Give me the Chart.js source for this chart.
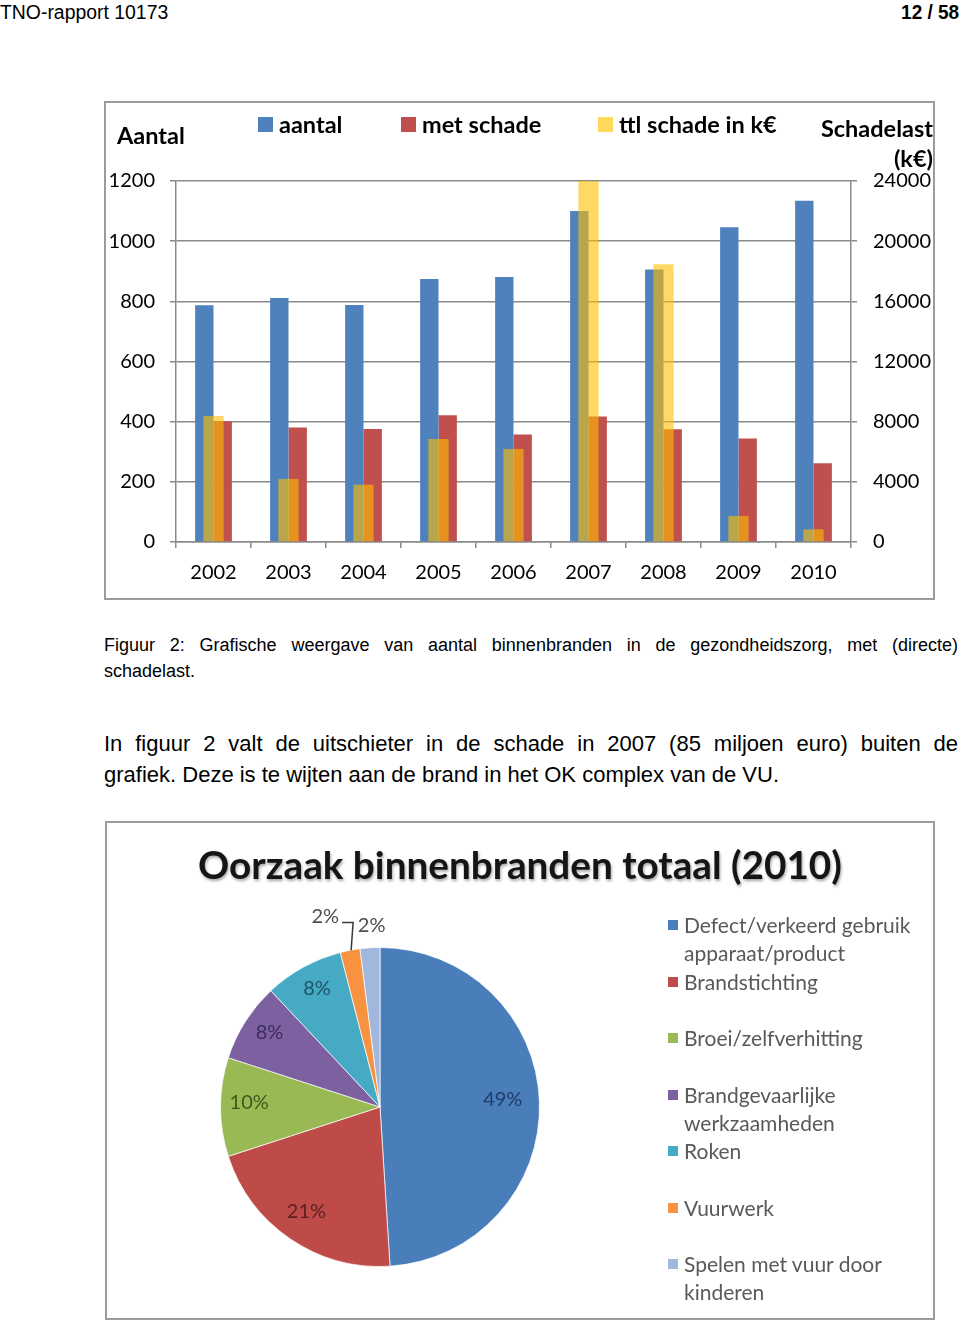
<!DOCTYPE html>
<html lang="nl">
<head>
<meta charset="utf-8">
<title>Binnenbranden gezondheidszorg</title>
<script src="https://cdn.jsdelivr.net/npm/chart.js@4.4.1/dist/chart.umd.min.js"></script>
<style>
    html, body { margin: 0; padding: 0; background: #fff; }
    body { width: 960px; height: 1323px; position: relative; overflow: hidden; font-family: "Liberation Sans", Arial, sans-serif; color: #000; }
    .abs { position: absolute; white-space: nowrap; }
    .kop { font-size: 20px; top: 1px; transform-origin: left top; transform: scaleX(0.97); }
    .kop.rechts { transform-origin: right top; right: 1px; font-weight: bold; transform: scaleX(0.95); }
    .kader { position: absolute; box-sizing: border-box; border: 2px solid #9b9b9b; background: #fff; }
    .grafiek { position: absolute; }
    .lbl { font-family: Lato, "Open Sans", sans-serif; font-weight: bold; font-size: 23.5px; line-height: 28px; color: #000; }
    .blok { position: absolute; width: 15px; height: 15px; }
    .tekst { position: absolute; left: 104px; width: 854px; text-align: justify; text-align-last: justify; }
    .tekst.laatst { text-align-last: left; }
    #pie-titel { left: 107px; width: 826px; top: 841px; text-align: center; font-family: Lato, sans-serif; font-weight: bold; font-size: 38.7px; color: #151515; text-shadow: 1px 2px 3px rgba(0,0,0,0.35); }
    #pie-legenda { position: absolute; left: 666px; top: 911px; width: 250px; font-family: Lato, sans-serif; font-size: 21px; line-height: 28px; color: #595959; }
    #pie-legenda .item { position: relative; height: 56.5px; padding-left: 18px; }
    #pie-legenda .item span.kl { position: absolute; left: 2px; top: 9px; width: 10px; height: 10px; }
</style>
</head>
<body>

<div class="abs kop" style="left:0">TNO-rapport 10173</div>
<div class="abs kop rechts">12 / 58</div>

<!-- Figuur 2: staafdiagram -->
<div class="kader" style="left:104px; top:101px; width:831px; height:499px;"></div>
<div class="grafiek" style="left:106px; top:103px; width:827px; height:495px;">
    <canvas id="brandenChart"></canvas>
</div>
<div class="abs lbl" style="left:117px; top:121px;">Aantal</div>
<div class="abs lbl" style="right:27px; top:113px; text-align:right; line-height:30px;">Schadelast<br>(k€)</div>
<div id="bar-legenda"></div>

<div class="abs tekst" style="top:635px; font-size:18px;">Figuur 2: Grafische weergave van aantal binnenbranden in de gezondheidszorg, met (directe)</div>
<div class="abs tekst laatst" style="top:661px; font-size:18px;">schadelast.</div>

<div class="abs tekst" style="top:731px; font-size:22px;">In figuur 2 valt de uitschieter in de schade in 2007 (85 miljoen euro) buiten de</div>
<div class="abs tekst laatst" style="top:762px; font-size:22px;">grafiek. Deze is te wijten aan de brand in het OK complex van de VU.</div>

<!-- Oorzaak binnenbranden: cirkeldiagram -->
<div class="kader" style="left:105px; top:821px; width:830px; height:499px;"></div>
<div class="grafiek" style="left:107px; top:823px; width:826px; height:495px;">
    <canvas id="oorzaakChart"></canvas>
</div>
<div class="abs" id="pie-titel">Oorzaak binnenbranden totaal (2010)</div>
<div id="pie-legenda"></div>

<script>
// Jaren en reeksen (figuur 2)
const jaren = ['2002', '2003', '2004', '2005', '2006', '2007', '2008', '2009', '2010'];
const aantal = [787, 811, 788, 874, 881, 1100, 906, 1046, 1134];
const metSchade = [401, 381, 376, 421, 357, 417, 375, 344, 262];
const ttlSchade = [8380, 4190, 3810, 6850, 6180, 85000, 18460, 1730, 840]; // k€, 2007 valt buiten de grafiek
const reeksNamen = ['aantal', 'met schade', 'ttl schade in k€'];

// Oorzaken 2010 (procenten)
const oorzaken = [
    'Defect/verkeerd gebruik apparaat/product',
    'Brandstichting',
    'Broei/zelfverhitting',
    'Brandgevaarlijke werkzaamheden',
    'Roken',
    'Vuurwerk',
    'Spelen met vuur door kinderen'
];
const aandelen = [49, 21, 10, 8, 8, 2, 2];

// kleuren
const reeksKleuren = ['#4F81BD', '#C0504D', 'rgba(255, 190, 0, 0.6)'];
const legendaKleuren = ['#4F81BD', '#C0504D', '#FFD95E'];
const oorzaakKleuren = ['#4A7EBB', '#BE4B48', '#98B954', '#7D60A0', '#46AAC5', '#F69240', '#A2B7DC'];
const labelKleuren = ['#1F3D6B', '#5C1F1E', '#3D5A1A', '#3B2B5A', '#1D5566', '#4D4D4D', '#4D4D4D'];

const lijnKleur = '#8a8a8a';
const tickFont = { family: 'Lato', size: 20 };

// legenda boven het staafdiagram
const legendaPos = [258, 401, 598];
let legendaHtml = '';
reeksNamen.forEach(function(naam, i) {
    legendaHtml += '<span class="blok" style="left:' + legendaPos[i] + 'px; top:117px; background:' + legendaKleuren[i] + '"></span>';
    legendaHtml += '<span class="abs lbl" style="left:' + (legendaPos[i] + 21) + 'px; top:110px;">' + naam + '</span>';
});
document.getElementById('bar-legenda').innerHTML = legendaHtml;

// getallen zonder duizendtalscheiding
function kaal(waarde) {
    return String(waarde);
}

// staafdiagram
const brandenCtx = document.getElementById('brandenChart').getContext('2d');
const brandenChart = new Chart(brandenCtx, {
    type: 'bar',
    data: {
        labels: jaren,
        datasets: [{
            label: reeksNamen[0],
            data: aantal,
            yAxisID: 'y',
            backgroundColor: reeksKleuren[0],
            categoryPercentage: 0.49,
            barPercentage: 1,
            order: 1
        }, {
            label: reeksNamen[1],
            data: metSchade,
            yAxisID: 'y',
            backgroundColor: reeksKleuren[1],
            categoryPercentage: 0.49,
            barPercentage: 1,
            order: 1
        }, {
            label: reeksNamen[2],
            data: ttlSchade,
            yAxisID: 'y1',
            backgroundColor: reeksKleuren[2],
            grouped: false,
            categoryPercentage: 0.27,
            barPercentage: 1,
            order: 0
        }]
    },
    options: {
        responsive: true,
        maintainAspectRatio: false,
        animation: false,
        layout: { padding: { top: 78, bottom: 0, left: 0, right: 0 } },
        plugins: {
            legend: { display: false },
            tooltip: { enabled: false }
        },
        scales: {
            x: {
                afterFit: function(scale) { scale.height = 56; },
                grid: { drawOnChartArea: false, color: lijnKleur, lineWidth: 1.5, tickLength: 6 },
                border: { color: lijnKleur, width: 1.5 },
                ticks: { color: '#000', font: tickFont, padding: 13, maxRotation: 0 }
            },
            y: {
                position: 'left',
                min: 0,
                max: 1200,
                afterFit: function(scale) { scale.width = 70; },
                grid: { color: lijnKleur, lineWidth: 1.5, tickLength: 6 },
                border: { color: lijnKleur, width: 1.5 },
                ticks: { stepSize: 200, color: '#000', font: tickFont, padding: 15, callback: kaal }
            },
            y1: {
                position: 'right',
                min: 0,
                max: 24000,
                afterFit: function(scale) { scale.width = 82; },
                grid: { drawOnChartArea: false, color: lijnKleur, lineWidth: 1.5, tickLength: 6 },
                border: { color: lijnKleur, width: 1.5 },
                ticks: { stepSize: 4000, color: '#000', font: tickFont, padding: 16, callback: kaal }
            }
        }
    }
});

// procentlabels in en naast de taartpunten
const procentLabels = {
    id: 'procentLabels',
    afterDatasetsDraw(chart) {
        const ctx = chart.ctx;
        const arcs = chart.getDatasetMeta(0).data;
        ctx.save();
        ctx.font = '20px Lato';
        ctx.textBaseline = 'middle';
        arcs.forEach(function(arc, i) {
            const p = arc.getProps(['x', 'y', 'startAngle', 'endAngle', 'outerRadius'], true);
            const mid = (p.startAngle + p.endAngle) / 2;
            const r = p.outerRadius;
            const tekst = aandelen[i] + '%';
            ctx.fillStyle = labelKleuren[i];
            if (aandelen[i] >= 5) {
                const d = r * (i === 0 ? 0.77 : 0.82);
                ctx.textAlign = 'center';
                ctx.fillText(tekst, p.x + Math.cos(mid) * d, p.y + Math.sin(mid) * d - 4);
            } else if (i === 5) {
                // met verbindingslijn
                const x0 = p.x + Math.cos(mid) * r;
                const y0 = p.y + Math.sin(mid) * r;
                const yTop = p.y - r - 25;
                ctx.strokeStyle = '#3a3a3a';
                ctx.lineWidth = 1.5;
                ctx.beginPath();
                ctx.moveTo(x0 + 1, y0);
                ctx.lineTo(x0 + 3, yTop);
                ctx.lineTo(x0 - 8, yTop);
                ctx.stroke();
                ctx.textAlign = 'right';
                ctx.fillText(tekst, x0 - 11, yTop - 6);
            } else {
                const d = r + 22;
                ctx.textAlign = 'center';
                ctx.fillText(tekst, p.x + Math.cos(mid) * d + 3, p.y + Math.sin(mid) * d);
            }
        });
        ctx.restore();
    }
};

// cirkeldiagram
const oorzaakCtx = document.getElementById('oorzaakChart').getContext('2d');
const oorzaakChart = new Chart(oorzaakCtx, {
    type: 'pie',
    data: {
        labels: oorzaken,
        datasets: [{
            data: aandelen,
            backgroundColor: oorzaakKleuren,
            borderColor: 'rgba(255, 255, 255, 0.7)',
            borderWidth: 1
        }]
    },
    options: {
        responsive: true,
        maintainAspectRatio: false,
        animation: false,
        layout: { padding: { left: 113, right: 393, top: 124, bottom: 51 } },
        plugins: {
            legend: { display: false },
            tooltip: { enabled: false }
        }
    },
    plugins: [procentLabels]
});

// legenda naast het cirkeldiagram
let pieLegenda = '';
oorzaken.forEach(function(naam, i) {
    pieLegenda += '<div class="item"><span class="kl" style="background:' + oorzaakKleuren[i] + '"></span>' + naam + '</div>';
});
document.getElementById('pie-legenda').innerHTML = pieLegenda;
</script>
</body>
</html>
